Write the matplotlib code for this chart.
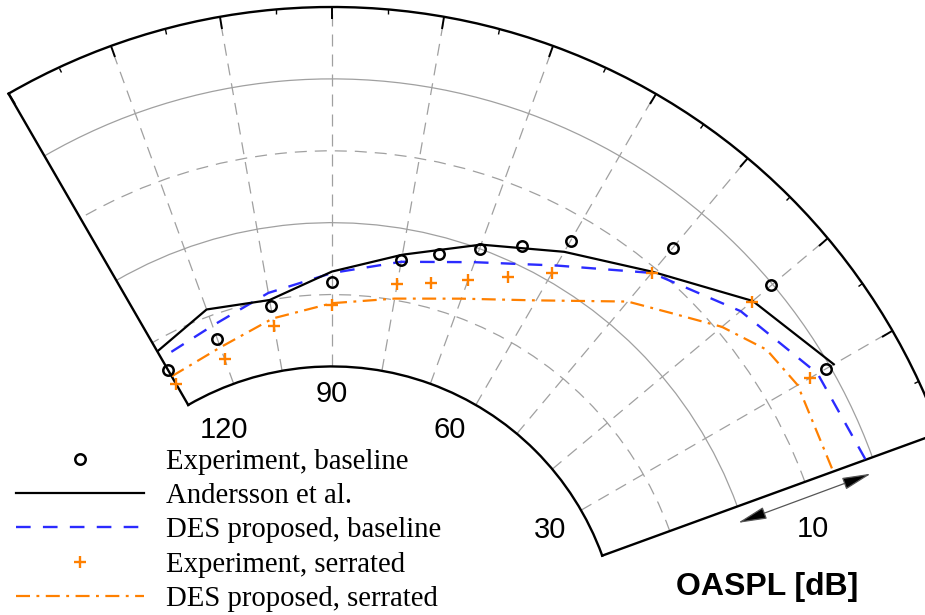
import numpy as np
import matplotlib
matplotlib.use('Agg')
import matplotlib.pyplot as plt

# directivity: polar angle [deg] vs OASPL [dB]
exp_base_theta = [120, 110, 100, 90, 80, 75, 70, 65, 60, 50, 40, 30]
exp_base_spl = [82.8, 83.3, 84.6, 85.9, 87.8, 88.8, 90.0, 91.3, 93.2, 96.9, 99.9, 99.7]

anders_theta = [120, 110, 100, 90, 80, 70, 60, 50, 40, 30]
anders_spl = [84.3, 85.5, 85.0, 86.6, 88.2, 90.3, 92.3, 94.7, 98.2, 100.3]

des_base_theta = [118, 110, 100, 90, 80, 70, 60, 50, 40, 30, 20]
des_base_spl = [83.8, 84.3, 85.5, 86.5, 87.7, 89.0, 91.2, 94.6, 97.1, 99.0, 99.5]

exp_serr_theta = [120, 110, 100, 90, 80, 75, 70, 65, 60, 50, 40, 30]
exp_serr_spl = [81.7, 81.8, 83.2, 84.3, 86.1, 86.7, 87.7, 88.9, 90.6, 94.6, 98.1, 98.4]

des_serr_theta = [120, 110, 100, 90, 80, 70, 60, 50, 45, 40, 35, 30, 20]
des_serr_spl = [82.3, 82.7, 83.7, 84.4, 85.1, 86.3, 88.4, 92.0, 93.5, 95.4, 96.9, 97.4, 97.1]

angle_labels = ['120', '90', '60', '30']

ORANGE = '#ff8000'
BLUE = '#2b2bff'
GRID = '#a0a0a0'

fig = plt.figure(figsize=(9.25, 6.15), dpi=100)
ax = fig.add_axes([0, 0, 1, 1], projection='polar')
ax.set_thetamin(20)
ax.set_thetamax(120)
ax.set_rorigin(60)
ax.set_rlim(80, 105)

# place the wedge: centre at pixel (332, 654 from top), outer radius 647 px
pts = ax.axesLim.get_points()
s = pts[1, 0] - pts[0, 0]
W = 2 * 647 * s
cx, cy = 332, 615 - 654
left = cx - (0.5 - pts[0, 0]) / s * W
bottom = cy - (0.5 - pts[0, 1]) / s * W
ax.set_position([left / 925, bottom / 615, W / 925, W / 615])

ax.set_xticks(np.deg2rad(np.arange(20, 121, 10)))
ax.set_xticks(np.deg2rad(np.arange(25, 120, 10)), minor=True)
ax.set_xticklabels([])
ax.set_yticks([90, 100])
ax.set_yticks([85, 95], minor=True)
ax.set_yticklabels([])
# theta ticks only on the outer arc, pointing inwards
ax.tick_params(axis='x', which='both', bottom=False, top=True, direction='in', color='black')
ax.tick_params(axis='x', which='major', length=8.5, width=1.4)
ax.tick_params(axis='x', which='minor', length=3.5, width=1.0)
ax.tick_params(axis='y', which='major', direction='in', length=7, width=1.4, color='black')
ax.tick_params(axis='y', which='minor', direction='in', length=3.5, width=1.0, color='black')
ax.xaxis.grid(True, which='major', color=GRID, lw=0.9, ls=(0, (9.6, 6.4)))
ax.yaxis.grid(True, which='major', color=GRID, lw=0.9, ls='-')
ax.yaxis.grid(True, which='minor', color=GRID, lw=0.9, ls=(0, (9.6, 6.4)))
for sp in ax.spines.values():
    sp.set_linewidth(1.7)
    sp.set_color('black')

th = np.deg2rad
ax.plot(th(exp_base_theta), exp_base_spl, 'o', mfc='none', mec='black', ms=7.5, mew=1.8,
        label='Experiment, baseline', zorder=5, clip_on=False)
ax.plot(th(anders_theta), anders_spl, '-', color='black', lw=1.6, label='Andersson et al.', zorder=4)
ax.plot(th(des_base_theta), des_base_spl, color=BLUE, lw=1.7, ls=(0, (6.2, 5.2)),
        label='DES proposed, baseline', zorder=3)
ax.plot(th(exp_serr_theta), exp_serr_spl, '+', color=ORANGE, ms=8.5, mew=1.7,
        label='Experiment, serrated', zorder=5, clip_on=False)
ax.plot(th(des_serr_theta), des_serr_spl, color=ORANGE, lw=1.6, ls=(0, (6.3, 2.9, 1.3, 2.9)),
        label='DES proposed, serrated', zorder=3)

# angle labels inside the inner arc
lab_kw = dict(fontsize=21, family='Liberation Sans', ha='center', va='baseline')
lab_pos = [(116.6, 76.8), (90, 77.5), (61.4, 77.1), (28.0, 77.2)]
for txt, (a, r) in zip(angle_labels, lab_pos):
    ax.text(th(a), r, txt, **lab_kw)

# 10 dB scale arrow
ax.annotate('', xy=(th(17.9), 89.67), xytext=(th(18.5), 99.53), annotation_clip=False,
            arrowprops=dict(arrowstyle='<|-|>,head_length=1.8,head_width=0.38', mutation_scale=10,
                            fc='black', ec='#555555', lw=0.9, shrinkA=0, shrinkB=0))
ax.text(th(13.7), 94.4, '10', **lab_kw)
fig.text(767 / 925, 1 - 587 / 615, 'OASPL [dB]', fontsize=23, fontweight='bold',
         family='Liberation Sans', ha='center', va='center')

ax.legend(loc='upper left', bbox_to_anchor=(16 / 925, 1 - 449 / 615), bbox_transform=fig.transFigure,
          frameon=False, prop={'family': 'Liberation Serif', 'size': 20.7}, handlelength=4.45,
          handletextpad=0.77, labelspacing=0.28, borderpad=0, borderaxespad=0, numpoints=1)

fig.savefig('out.png', dpi=100)
